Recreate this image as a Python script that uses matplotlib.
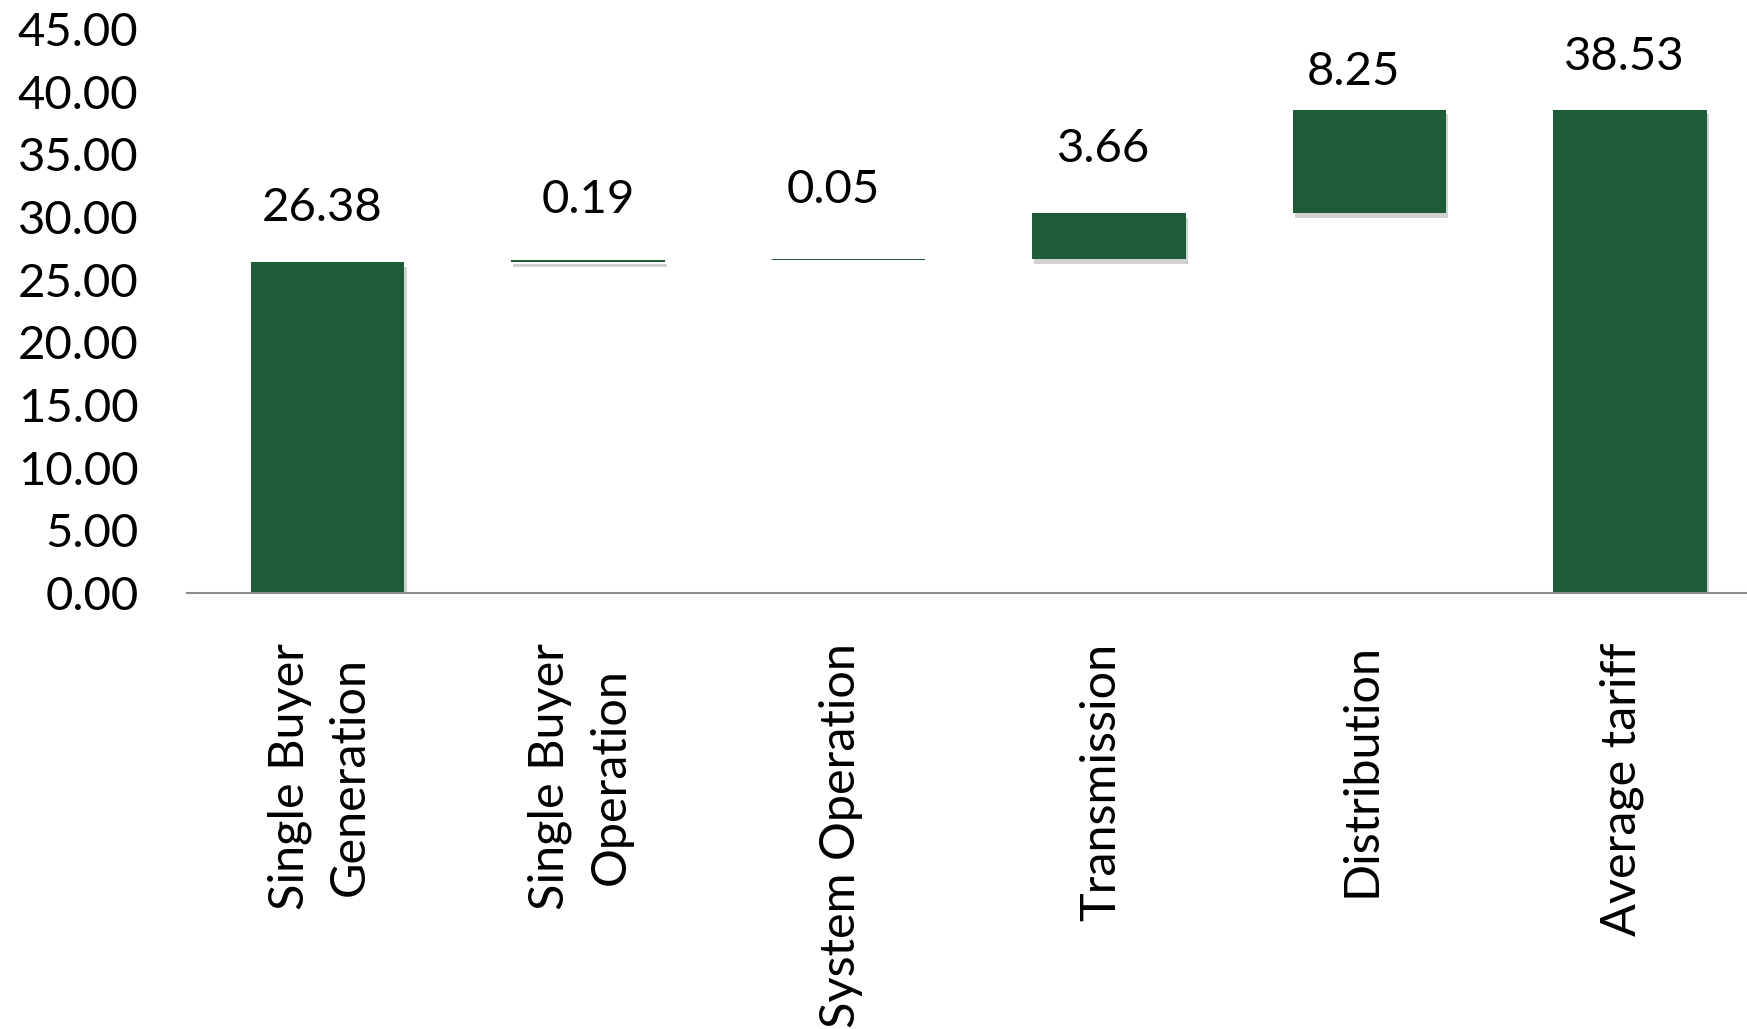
import numpy as np
import matplotlib.pyplot as plt
import matplotlib.patheffects as pe
import matplotlib.transforms as mtransforms

plt.rcParams['font.family'] = ['Lato', 'DejaVu Sans']

categories = ['Single Buyer\nGeneration', 'Single Buyer\nOperation', 'System Operation',
              'Transmission', 'Distribution', 'Average tariff']
values = [26.38, 0.19, 0.05, 3.66, 8.25, 38.53]
is_total = [False, False, False, False, False, True]
yticks = [0, 5, 10, 15, 20, 25, 30, 35, 40, 45]

# label placement (gap above bar top, sideways nudge), in data units
label_dy = [4.35, 4.75, 5.5, 5.15, 3.0, 4.25]
label_dx = [-0.02, 0.0, -0.06, -0.02, -0.06, -0.02]

# waterfall bottoms: running sum of previous steps, totals start from zero
bottoms = []
running = 0.0
for v, tot in zip(values, is_total):
    if tot:
        bottoms.append(0.0)
    else:
        bottoms.append(running)
        running += v

W, H = 1747, 1029
fig = plt.figure(figsize=(W / 100, H / 100), dpi=100)
ax = fig.add_axes([187 / W, 1 - 593 / H, (W - 187) / W, (593 - 29) / H])

x = np.arange(len(values))
bars = ax.bar(x, values, bottom=bottoms, width=0.59, color='#1e5c37', linewidth=0)
for b in bars:
    b.set_path_effects([pe.SimplePatchShadow(offset=(1.5, -3), shadow_rgbFace='#000000', alpha=0.18),
                        pe.Normal()])

for xi, v, b0, dy, dx in zip(x, values, bottoms, label_dy, label_dx):
    ax.text(xi + dx, b0 + v + dy, '%.2f' % v, ha='center', va='center', fontsize=34, color='black')

ax.set_xlim(-0.54, 5.45)
ax.set_ylim(0, 45)
ax.set_yticks(yticks)
ax.set_yticklabels(['%.2f' % t for t in yticks], fontsize=34)
ax.tick_params(axis='y', length=0, pad=35)
ax.set_xticks(x)
ax.set_xticklabels(categories, rotation=90, fontsize=35, va='top', ha='center',
                   multialignment='center', linespacing=1.45)
ax.tick_params(axis='x', length=0, pad=36)
shift = mtransforms.ScaledTranslation(-8 / 100, 0, fig.dpi_scale_trans)
for lbl in ax.get_xticklabels():
    lbl.set_transform(lbl.get_transform() + shift)

for s in ['top', 'right', 'left']:
    ax.spines[s].set_visible(False)
ax.spines['bottom'].set_color('#8c8c8c')
ax.spines['bottom'].set_linewidth(1.5)

fig.savefig('out.png', dpi=100)
